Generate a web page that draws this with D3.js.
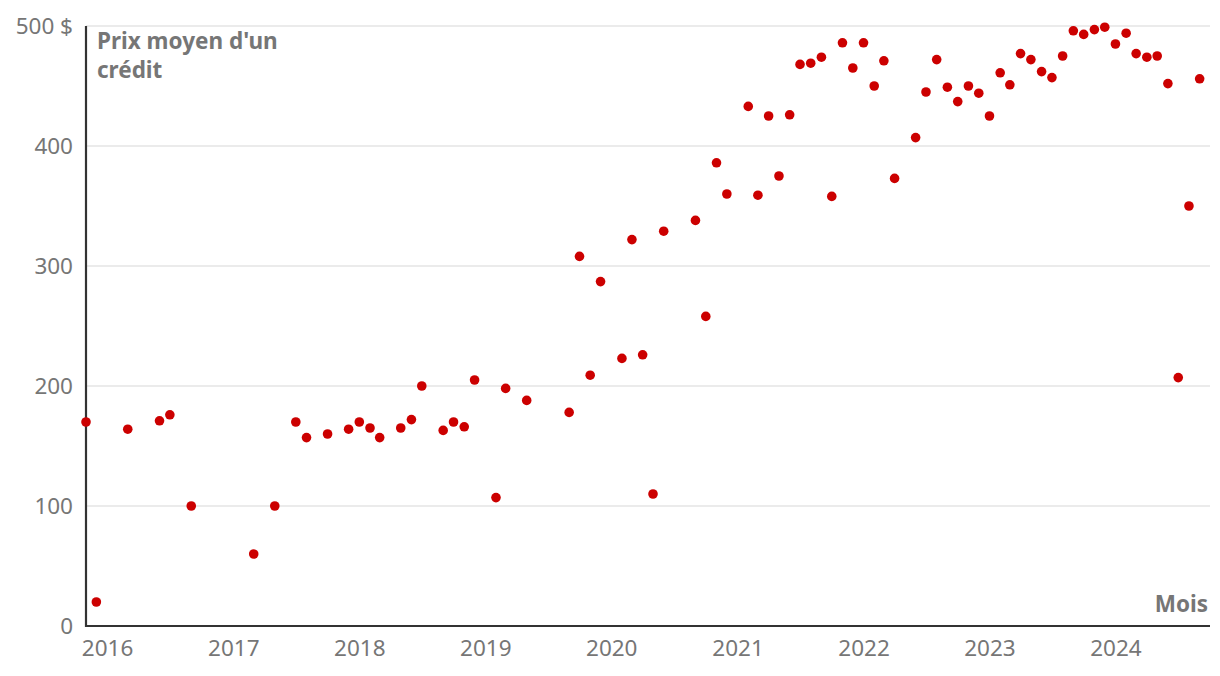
<!DOCTYPE html>
<html>
<head>
<meta charset="utf-8">
<script src="https://cdn.jsdelivr.net/npm/d3@7"></script>
<style>
  html, body { margin: 0; padding: 0; background: #fff; }
  svg { display: block; }
  text { font-family: "Noto Sans", "Open Sans", sans-serif; }
</style>
</head>
<body>
<svg id="chart" width="1220" height="676"></svg>
<script>
const months = ["2015-11","2015-12","2016-03","2016-06","2016-07","2016-09","2017-03","2017-05","2017-07","2017-08",
  "2017-10","2017-12","2018-01","2018-02","2018-03","2018-05","2018-06","2018-07","2018-09","2018-10",
  "2018-11","2018-12","2019-02","2019-03","2019-05","2019-09","2019-10","2019-11","2019-12","2020-02",
  "2020-03","2020-04","2020-05","2020-06","2020-09","2020-10","2020-11","2020-12","2021-02","2021-03",
  "2021-04","2021-05","2021-06","2021-07","2021-08","2021-09","2021-10","2021-11","2021-12","2022-01",
  "2022-02","2022-03","2022-04","2022-06","2022-07","2022-08","2022-09","2022-10","2022-11","2022-12",
  "2023-01","2023-02","2023-03","2023-04","2023-05","2023-06","2023-07","2023-08","2023-09","2023-10",
  "2023-11","2023-12","2024-01","2024-02","2024-03","2024-04","2024-05","2024-06","2024-07","2024-08","2024-09"];
const prices = [170,20,164,171,176,100,60,100,170,157,
  160,164,170,165,157,165,172,200,163,170,
  166,205,107,198,188,178,308,209,287,223,
  322,226,110,329,338,258,386,360,433,359,
  425,375,426,468,469,474,358,486,465,486,
  450,471,373,407,445,472,449,437,450,444,
  425,461,451,477,472,462,457,475,496,493,
  497,499,485,494,477,474,475,452,207,350,456];
const yTicks = [0,100,200,300,400,500];
const xTickYears = [2016,2017,2018,2019,2020,2021,2022,2023,2024];
const titleLines = ["Prix moyen d'un", "crédit"];
const xAxisTitle = "Mois";

(function () {
const parse = d3.timeParse("%Y-%m");
const data = months.map((m, i) => ({ date: parse(m), value: prices[i] }));

const svg = d3.select("#chart");
const mLeft = 86, mRight = 1210, mTop = 26, mBottom = 626;

const x = d3.scaleTime().domain([parse("2015-11"), parse("2024-10")]).range([mLeft, mRight]);
const y = d3.scaleLinear().domain([0, 500]).range([mBottom, mTop]);

const gray = "#767676";
const tickFont = "22.5px";

// gridlines
svg.append("g").selectAll("line").data(yTicks.filter(d => d > 0)).join("line")
  .attr("x1", mLeft).attr("x2", mRight)
  .attr("y1", d => y(d)).attr("y2", d => y(d))
  .attr("stroke", "#e4e4e4").attr("stroke-width", 1.5);

// y axis labels
const yAxis = d3.axisLeft(y).tickValues(yTicks).tickSize(0).tickPadding(13)
  .tickFormat(d => d === 500 ? "500 $" : d);
const gy = svg.append("g").attr("transform", `translate(${mLeft},0)`).call(yAxis);
gy.select(".domain").remove();
gy.selectAll("text").attr("fill", gray).style("font-size", tickFont)
  .style("font-family", '"Noto Sans", sans-serif').attr("dy", "0.33em");

// x axis labels
const xAxis = d3.axisBottom(x).tickValues(xTickYears.map(yr => new Date(yr, 0, 1)))
  .tickSize(0).tickPadding(14).tickFormat(d3.timeFormat("%Y"));
const gx = svg.append("g").attr("transform", `translate(0,${mBottom})`).call(xAxis);
gx.select(".domain").remove();
gx.selectAll("text").attr("fill", gray).style("font-size", tickFont)
  .style("font-family", '"Noto Sans", sans-serif');

// axis lines
svg.append("line").attr("x1", mLeft).attr("x2", mLeft).attr("y1", mTop).attr("y2", mBottom + 1)
  .attr("stroke", "#333").attr("stroke-width", 2.2);
svg.append("line").attr("x1", mLeft - 1).attr("x2", mRight).attr("y1", mBottom).attr("y2", mBottom)
  .attr("stroke", "#333").attr("stroke-width", 2.2);

// dots
svg.append("g").selectAll("circle").data(data).join("circle")
  .attr("cx", d => x(d.date)).attr("cy", d => y(d.value))
  .attr("r", 4.8).attr("fill", "#cc0000");

// titles
const t = svg.append("text").attr("x", 97).attr("y", 49)
  .attr("fill", gray).style("font-size", "22.5px").style("font-weight", "bold");
titleLines.forEach((l, i) => t.append("tspan").attr("x", 97).attr("dy", i === 0 ? 0 : 29).text(l));

svg.append("text").attr("x", 1208).attr("y", 612).attr("text-anchor", "end")
  .attr("fill", gray).style("font-size", "22.5px").style("font-weight", "bold").text(xAxisTitle);
})();
</script>
</body>
</html>
